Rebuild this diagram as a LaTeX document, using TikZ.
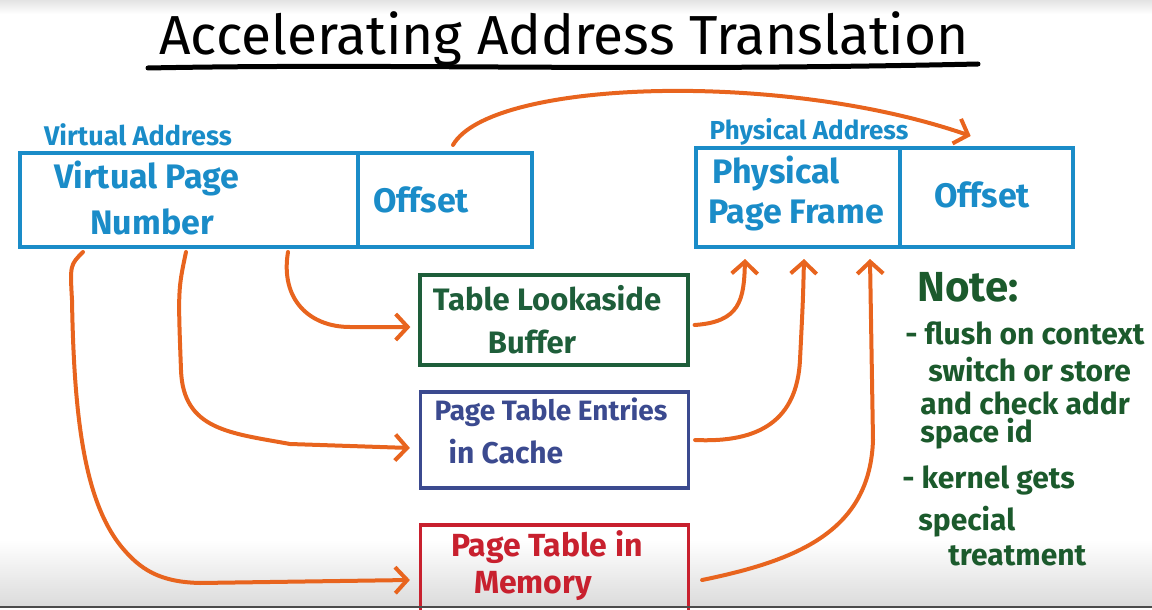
\documentclass[tikz,border=0pt]{standalone}
\usepackage{fontspec}
\setmainfont{Fira Sans}
\usetikzlibrary{arrows.meta,calc}
\definecolor{vablue}{HTML}{1A8CC8}
\definecolor{orng}{HTML}{E8641E}
\definecolor{tlbgreen}{HTML}{1E5E3A}
\definecolor{notegreen}{HTML}{1B5A2C}
\definecolor{pteblue}{HTML}{3B4A8F}
\definecolor{memred}{HTML}{C8202E}
\newcommand\fsz[1]{\fontsize{#1}{#1}\selectfont}
\begin{document}
\begin{tikzpicture}[x=0.5pt,y=-0.5pt,
  addrbox/.style={draw=vablue, line width=2pt, inner sep=0pt, minimum height=47pt},
  tblbox/.style={line width=1.6pt, inner sep=0pt, minimum width=134pt},
  lbl/.style={inner sep=0pt, font=\bfseries},
  notetxt/.style={inner sep=0pt, anchor=west, text=notegreen, font=\bfseries\fsz{15}},
  arr/.style={draw=orng, line width=2pt, line cap=round, line join=round,
    -{Straight Barb[length=6pt,width=13pt]}}]
\useasboundingbox (0,0) rectangle (1152,610);
\clip (0,0) rectangle (1152,610);
% video frame shading
\shade[top color=gray!22, bottom color=white] (0,0) rectangle (1152,14);
\shade[top color=white, bottom color=gray!28] (0,540) rectangle (1152,606);
% title
\node[inner sep=0pt, font=\fsz{27.5}] (title) at (564,39) {Accelerating Address Translation};
\draw[line width=2.5pt, line cap=round] (148,68) .. controls (400,63) and (620,72) .. (978,64);
% virtual address
\node[lbl, text=vablue, font=\bfseries\fsz{13.5}] (valbl) at (138,135) {Virtual Address};
\node[addrbox, minimum width=169pt] (vpn) at (189,200) {};
\node[addrbox, minimum width=87pt] (voff) at (445,200) {};
\node[lbl, text=vablue, font=\bfseries\fsz{17}] (vpn1) at (147,178) {Virtual Page};
\node[lbl, text=vablue, font=\bfseries\fsz{17}] (vpn2) at (152,222) {Number};
\node[lbl, text=vablue, font=\bfseries\fsz{17}] (voffl) at (421,200) {Offset};
% physical address
\node[lbl, text=vablue, font=\bfseries\fsz{13}] (palbl) at (809,132) {Physical Address};
\node[addrbox, minimum width=102pt, minimum height=49.5pt] (ppf) at (798,197.5) {};
\node[addrbox, minimum width=86.5pt, minimum height=49.5pt] (poff) at (986.5,197.5) {};
\node[lbl, text=vablue, font=\bfseries\fsz{17}] (ppf1) at (776,173) {Physical};
\node[lbl, text=vablue, font=\bfseries\fsz{17}] (ppf2) at (796,215) {Page Frame};
\node[lbl, text=vablue, font=\bfseries\fsz{17}] (poffl) at (982,195) {Offset};
% tables
\node[tblbox, draw=tlbgreen, minimum height=45pt] (tlb) at (554,320) {};
\node[lbl, text=tlbgreen, font=\bfseries\fsz{15.5}] (tlb1) at (547,298) {Table Lookaside};
\node[lbl, text=tlbgreen, font=\bfseries\fsz{15.5}] (tlb2) at (532,342) {Buffer};
\node[tblbox, draw=pteblue, minimum height=48pt] (pte) at (554.5,440) {};
\node[lbl, text=pteblue, font=\bfseries\fsz{14}] (pte1) at (551,412) {Page Table Entries};
\node[lbl, text=pteblue, font=\bfseries\fsz{15}] (pte2) at (506,452) {in Cache};
\node[tblbox, draw=memred, minimum height=50pt] (mem) at (554.5,575) {};
\node[lbl, text=memred, font=\bfseries\fsz{16}] (mem1) at (547,547) {Page Table in};
\node[lbl, text=memred, font=\bfseries\fsz{16}] (mem2) at (533,586) {Memory};
% note
\node[notetxt, font=\bfseries\fsz{21}] (n0) at (917,287) {Note:};
\node[notetxt] (n1) at (905,333) {- flush on context};
\node[notetxt] (n2) at (928,370) {switch or store};
\node[notetxt] (n3) at (920,403) {and check addr};
\node[notetxt] (n4) at (920,434) {space id};
\node[notetxt] (n5) at (902,480) {- kernel gets};
\node[notetxt] (n6) at (918,522) {special};
\node[notetxt] (n7) at (948,556) {treatment};
% connector end points
\coordinate (pa) at ($(palbl.east)+(62,4)$);
% arrows
\draw[arr] ($(voff.north west)+(97,-6)$) .. controls (490,80) and (780,70) .. (pa);
\draw[arr] ($(vpn.south west)+(270,3)$) .. controls (280,300) and (310,327) .. (350,327) -- ($(tlb.west)+(-8,7)$);
\draw[arr] ($(vpn.south west)+(168,3)$) .. controls (178,290) .. (181,370) .. controls (183,430) and (230,433) .. (290,444) -- ($(pte.west)+(-9,8)$);
\draw[arr] ($(vpn.south west)+(65,3)$) .. controls (70,265) .. (72,300) .. controls (74,420) and (85,500) .. (120,545) .. controls (140,570) and (160,582) .. (200,583) -- ($(mem.west)+(-9,5)$);
\draw[arr] ($(tlb.east)+(5,5)$) .. controls (740,322) and (744,300) .. ($(ppf.south west)+(51,10)$);
\draw[arr] ($(pte.east)+(5,0)$) .. controls (760,443) and (797,420) .. (800,360) .. controls (803,300) .. ($(ppf.south west)+(110,10)$);
\draw[arr] ($(mem.east)+(12,5)$) .. controls (800,560) and (870,530) .. (873,440) -- ($(ppf.south west)+(176,10)$);
\draw[line width=1pt, black!70] (0,607) -- (1152,607);
\end{tikzpicture}
\end{document}
